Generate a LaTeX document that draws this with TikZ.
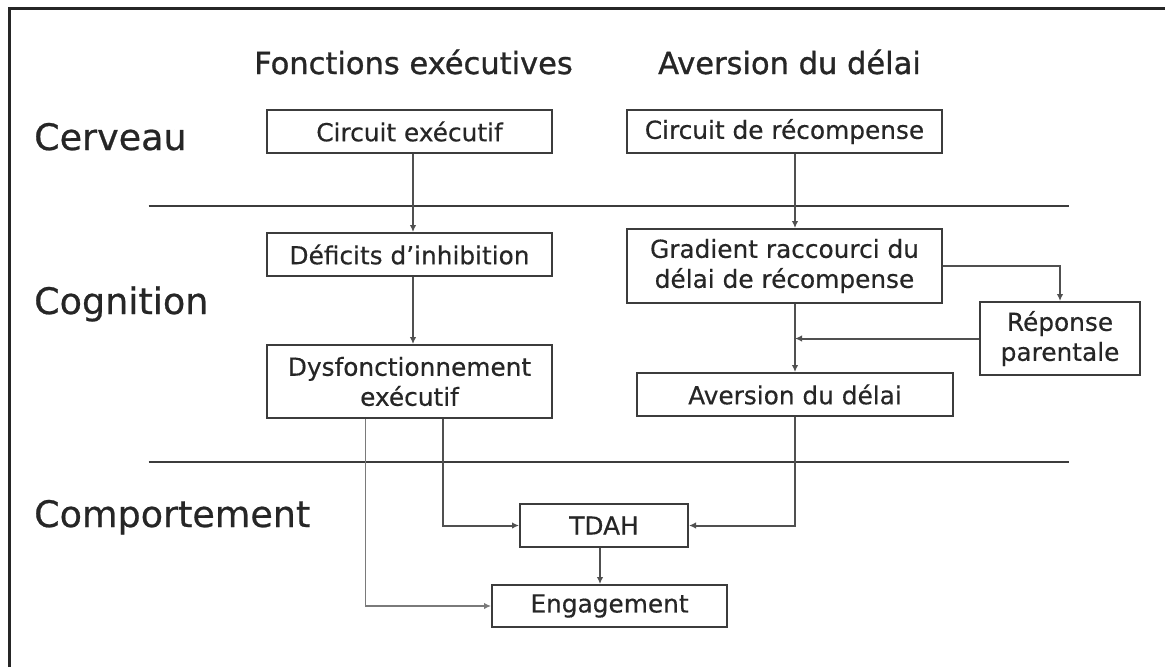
\documentclass[tikz,border=0pt]{standalone}
\usepackage{fontspec}
\setmainfont{DejaVu Sans}
\newfontfamily\headfont[FakeBold=1.0]{DejaVu Sans}
\newfontfamily\levelfont[FakeBold=0.6]{DejaVu Sans}
\newfontfamily\boxfont[FakeBold=0.4]{DejaVu Sans}
\usetikzlibrary{arrows.meta,calc}
\definecolor{ink}{HTML}{262626}
\definecolor{rule}{HTML}{3C3C3C}
\definecolor{wire}{HTML}{505050}
\definecolor{wirelight}{HTML}{7A7A7A}
\tikzset{
  stagebox/.style={draw=rule, line width=2pt, inner sep=0pt, text=ink,
    align=center, font=\boxfont\fontsize{24.8}{30}\selectfont},
  heading/.style={text=ink, inner sep=0pt, font=\headfont\fontsize{30.5}{36}\selectfont},
  level/.style={text=ink, inner sep=0pt, anchor=base west, font=\levelfont\fontsize{36.5}{42}\selectfont},
  flow/.style={draw=wire, line width=2pt, -{Latex[length=7pt,width=6.5pt]}},
  flowlight/.style={draw=wirelight, line width=1.4pt, -{Latex[length=7pt,width=6.5pt]}},
  divider/.style={draw=rule, line width=2pt}
}
\begin{document}
\begin{tikzpicture}[x=1pt,y=-1pt]
  \useasboundingbox (0,0) rectangle (1165,667);
  \fill[white] (0,0) rectangle (1165,667);
  % outer frame (top and left edges)
  \draw[draw=black!85, line width=3pt] (9,667) -- (9,8) -- (1165,8);

  % column headings
  \node[heading, anchor=base] (hfe) at (413.5,74) {Fonctions exécutives};
  \node[heading, anchor=base] (had) at (789.5,74) {Aversion du délai};

  % level labels
  \node[level] (lcer) at (34,150) {Cerveau};
  \node[level] (lcog) at (34,314) {Cognition};
  \node[level] (lcom) at (34,527) {Comportement};

  % level separators
  \coordinate (s1a) at (148.5,206);
  \coordinate (s1b) at (1069,206);
  \coordinate (s2a) at (148.5,462);
  \coordinate (s2b) at (1069,462);
  \draw[divider] (s1a) -- (s1b);
  \draw[divider] (s2a) -- (s2b);

  % boxes
  \node[stagebox, minimum width=285pt, minimum height=43pt] (ce) at (409.5,131.5) {Circuit exécutif};
  \node[stagebox, minimum width=315pt, minimum height=43pt] (cr) at (784.5,131.5) {Circuit de récompense};
  \node[stagebox, minimum width=285pt, minimum height=43pt] (di) at (409.5,254.5) {Déficits d’inhibition};
  \node[stagebox, minimum width=315pt, minimum height=74pt] (gr) at (784.5,266) {Gradient raccourci du\\délai de récompense};
  \node[stagebox, minimum width=160pt, minimum height=73pt] (rp) at (1060,338.5) {Réponse\\parentale};
  \node[stagebox, minimum width=285pt, minimum height=73pt] (de) at (409.5,381.5) {Dysfonctionnement\\exécutif};
  \node[stagebox, minimum width=316pt, minimum height=43pt] (ad) at (795,394.5) {Aversion du délai};
  \node[stagebox, minimum width=168pt, minimum height=43pt] (td) at (604,525.5) {TDAH};
  \node[stagebox, minimum width=235pt, minimum height=42pt] (en) at (609.5,606) {Engagement};

  % connectors
  \draw[flow] ($(ce.south)+(3.5,0)$) -- ($(di.north)+(3.5,0)$);
  \draw[flow] ($(di.south)+(3.5,0)$) -- ($(de.north)+(3.5,0)$);
  \draw[flow] (cr.south -| ad.north) -- (gr.north -| ad.north);
  \draw[flow] (gr.south -| ad.north) -- (ad.north);
  \draw[flow] (gr.east) -| (rp.north);
  \coordinate (join) at (ad.north |- rp.west);
  \draw[flow] (rp.west) -- (join);
  \draw[flow] ($(de.south)+(33.5,0)$) |- (td.west);
  \draw[flowlight] ($(de.south)+(-44,0)$) |- (en.west);
  \draw[flow] (ad.south) |- (td.east);
  \draw[flow] ($(td.south)+(-4,0)$) -- ($(td.south |- en.north)+(-4,0)$);
\end{tikzpicture}
\end{document}
